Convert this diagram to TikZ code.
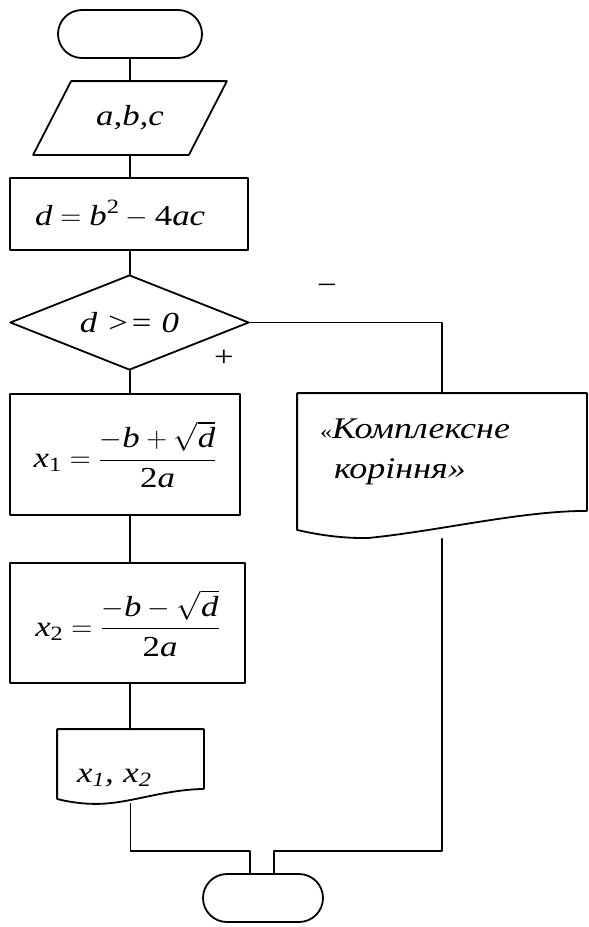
\RequirePackage{fix-cm}
\documentclass[tikz,border=0pt]{standalone}
\usepackage{amsmath}
\usepackage{fontspec}
\setmainfont{Liberation Serif}[FakeStretch=1.2]
\usetikzlibrary{shapes.geometric,shapes.misc}

\newcommand\vi[1]{\text{\itshape #1}}

\tikzset{
  blk/.style={draw, line width=1.8pt, inner sep=0pt, font=\fontsize{29}{35}\selectfont},
  term/.style={blk, rounded rectangle, minimum height=48pt},
  io/.style={blk, draw=none, rectangle, minimum width=154pt, minimum height=72pt},
  proc/.style={blk, rectangle},
  decision/.style={blk, diamond, aspect=2.5, minimum width=239pt, minimum height=95pt},
  docbox/.style={blk, draw=none, rectangle, align=left},
  sign/.style={font=\fontsize{29}{35}\selectfont},
  line/.style={line width=1.8pt},
}

\begin{document}
\begin{tikzpicture}[x=1pt,y=-1pt,line cap=round,line join=round]
  \useasboundingbox (0,0) rectangle (589,927);
  \coordinate (spine) at (130,0);

  % Початок і введення
  \node[term, minimum width=144pt] (start) at (130,34) {};
  \node[io] (inp) at (130,118) {\textit{a,b,c}};
  \draw[line] ([xshift=-19pt]inp.south west) -- ([xshift=19pt]inp.north west)
    -- ([xshift=19pt]inp.north east) -- ([xshift=-19pt]inp.south east) -- cycle;
  \node[proc, align=left, inner xsep=25pt, text width=188pt, minimum height=72pt] (calc) at (129,214)
    {$\vi{d} = \vi{b}^{\text{2}} - \text{4}\vi{ac}$};

  % Умова
  \node[decision] (chk) at (129.5,322.5) {\itshape d >= 0};
  \node[sign] (neg) at (327,289) {−};
  \node[sign] (pos) at (224,358) {+};

  % Корені
  \node[proc, minimum width=230pt, minimum height=121pt] (root1) at (125,454.5)
    {$\vi{x}_{\text{1}} = \dfrac{-\vi{b}+\sqrt{\vi{d}}}{\text{2}\vi{a}}$};
  \node[proc, minimum width=235pt, minimum height=120pt] (root2) at (127.5,623)
    {$\vi{x}_{\text{2}} = \dfrac{-\vi{b}-\sqrt{\vi{d}}}{\text{2}\vi{a}}$};

  % Виведення
  \node[docbox, text width=107pt, inner xsep=19pt, minimum height=58pt] (out) at (130.5,759)
    {\raisebox{-23pt}[0pt][0pt]{\itshape x\textsubscript{1}, x\textsubscript{2}}};
  \node[docbox, text width=244pt, inner xsep=22pt, minimum height=116pt,
    font=\fontsize{30}{40}\selectfont\itshape] (nocplx) at (442,452)
    {{\fontsize{20}{20}\selectfont\upshape «}Комплексне\\\hspace*{14pt}коріння»};

  % Кінець
  \node[term, minimum width=120pt] (stop) at (263,898) {};

  % Контури документів
  \draw[line] (out.south east) -- (out.north east) -- (out.north west)
    -- ([yshift=-10pt]out.south west)
    .. controls +(7,2) and +(-17,0) .. ([xshift=39pt,yshift=-15pt]out.south west)
    .. controls +(33,0) and +(-43,1) .. (out.south east);
  \draw[line] (nocplx.south east) -- (nocplx.north east) -- (nocplx.north west)
    -- ([yshift=-19pt]nocplx.south west)
    .. controls +(12,3) and +(-30,1) .. ([xshift=72pt,yshift=-27pt]nocplx.south west)
    .. controls +(70,-7) and +(-66,0) .. (nocplx.south east);

  % Лінії
  \draw[line] (start) -- (inp.north);
  \draw[line] (inp.south) -- (spine |- calc.north);
  \draw[line] (spine |- calc.south) -- (spine |- chk.north);
  \draw[line] (spine |- chk.south) -- (spine |- root1.north);
  \draw[line] (spine |- root1.south) -- (spine |- root2.north);
  \draw[line] (spine |- root2.south) -- (spine |- out.north);
  \draw[line] (chk.east) -| (nocplx.north);

  \coordinate (joinl) at (250,851);
  \coordinate (joinr) at (274,851);
  \coordinate (outend) at ([yshift=-15pt]out.south);
  \coordinate (cplxend) at ([yshift=-28pt]nocplx.south);
  \draw[line] (outend) |- (joinl) -- (joinl |- stop.north);
  \draw[line] (cplxend) |- (joinr) -- (joinr |- stop.north);
\end{tikzpicture}
\end{document}
